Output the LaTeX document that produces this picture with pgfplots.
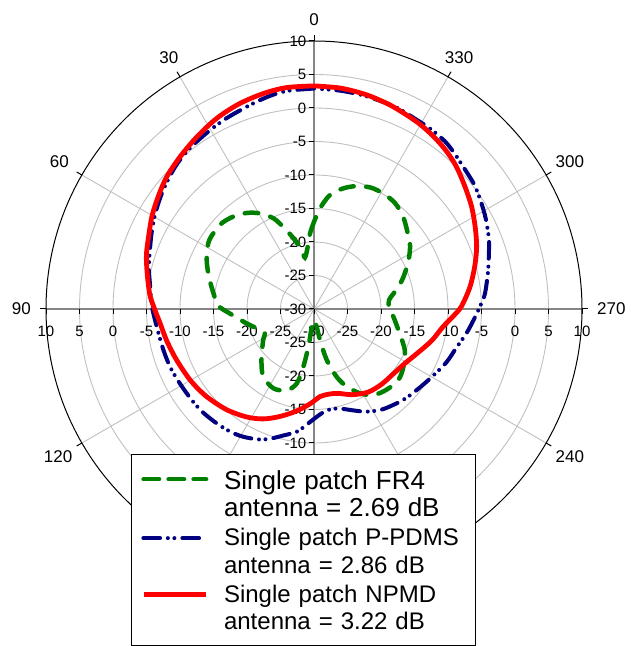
\documentclass[border=0pt]{standalone}
\usepackage{pgfplots}
\pgfplotsset{compat=1.18}
\usepackage{pgfplotstable}
\usepackage{fontspec}
\setmainfont{Liberation Sans}
\definecolor{gridc}{RGB}{192,192,192}
\definecolor{axc}{RGB}{134,134,134}
\definecolor{fgreen}{RGB}{0,128,0}
\definecolor{pnavy}{RGB}{0,0,128}
\definecolor{nred}{RGB}{255,0,0}

\pgfplotsset{
  limgA/.style={legend image code/.code={\path (0pt,0pt) (67pt,0pt);
    \draw[##1, dash pattern=on 15.5pt off 9.5pt] (2.25pt,14.5pt) -- (64.75pt,14.5pt);}},
  limgB/.style={legend image code/.code={\path (0pt,0pt) (67pt,0pt);
    \draw[##1] (2pt,12.8pt) -- (65pt,12.8pt);}},
  limgC/.style={legend image code/.code={\path (0pt,0pt) (67pt,0pt);
    \draw[##1] (2.5pt,12.5pt) -- (64.5pt,12.5pt);}},
}

% angle (deg, 0 = top, counter-clockwise), gain (dB)
\pgfplotstableread{
a v
0 -17.0
3 -18.7
6 -20.8
10 -22.2
12 -21.0
15.5 -19.3
20 -17.2
24 -15.2
29.5 -13.6
35 -12.5
41 -11.7
47 -11.2
53 -11.2
58 -11.4
65.5 -12.4
73 -13.6
81 -14.8
88 -15.7
93 -17.4
102 -19.7
110 -21.2
116.5 -21.8
121.5 -21.1
134 -19.1
143 -17.4
153 -16.7
161.5 -17.2
167 -18.6
169.5 -21.2
171.5 -24.3
173 -27.3
180 -28.3
188.5 -27.3
191 -25.3
194 -22.2
198.5 -19.3
203 -17.4
208.5 -15.7
214.5 -14.4
222 -13.8
230 -13.55
237 -14.1
245.5 -15.1
254 -16.7
264.5 -18.1
270.5 -18.8
277 -18.7
281 -17.9
288 -16.2
296 -14.4
303 -12.9
309 -12.0
316 -10.85
322.5 -10.1
329 -9.9
335 -10.0
341 -10.6
346.5 -11.5
352 -12.8
356.5 -14.9
360 -17.0
}\frfour

\pgfplotstableread{
a v
0 2.9
7 2.8
12 2.45
18 1.85
25 1.3
31 0.8
38 0.3
44 -0.3
50 -1.1
55 -1.8
60 -2.5
65 -3.25
70 -3.95
76 -4.6
82 -5.3
89 -5.8
96 -6.35
105 -6.7
112 -6.85
119 -7.1
127 -7.25
133 -7.35
140 -7.6
146 -7.85
151 -8.2
157 -8.85
161 -9.5
166 -10.5
172 -11.5
176 -12.6
180 -13.6
185 -14.5
190 -14.85
195 -14.6
201 -13.8
207 -12.8
214 -11.9
221 -11.3
227 -10.8
235 -10.2
241 -9.6
248 -8.7
255 -7.95
261 -6.95
267 -5.95
271 -5.2
275 -4.4
282 -3.45
288 -2.55
292 -1.85
298 -1.0
303 -0.35
308 0.3
314 0.8
318 1.3
322 1.75
327 2.0
332 2.15
338 2.5
346 2.7
353 2.82
360 2.9
}\ppdms

\pgfplotstableread{
a v
0 3.3
7 3.3
13 3.05
20 2.6
27 1.95
34 1.1
41 0.3
48 -0.45
54 -1.3
60 -2.1
66 -3.0
72 -3.7
78 -4.55
85 -5.4
90 -6.2
95 -6.9
102 -7.5
110 -8.1
120 -8.7
129 -9.3
139 -10.1
148 -11.0
155 -11.9
162 -13.1
170 -14.5
178 -15.9
184 -16.9
190 -17.1
196 -16.9
204 -16.0
213 -15.2
222 -14.9
231 -14.7
239 -14.2
247 -13.2
255 -11.8
262 -10.6
267 -9.2
271 -8.0
278 -6.5
285 -5.15
291 -4.0
297 -3.0
303 -1.95
309 -1.0
315 0.05
320 0.75
325 1.3
331 1.85
339 2.45
346 2.9
353 3.2
360 3.3
}\npmd

\begin{document}
\begin{tikzpicture}
% ---------- polar grid (centre of the chart) ----------
\begin{scope}[shift={(314pt,337pt)}]
  \foreach \k in {1,...,7}
    \draw[gridc, line width=0.9pt] (0,0) circle[radius=\k*33.5pt];
  \foreach \a in {30,60,120,150,210,240,300,330}
    \draw[gridc, line width=0.9pt] (0,0) -- (\a:268pt);
  \draw[axc, line width=1.5pt] (0,-268pt) -- (0,268pt);
  \draw[axc, line width=1.5pt] (-268pt,0) -- (268pt,0);
  \draw[black, line width=1pt] (0,0) circle[radius=268pt];
  \foreach \a in {0,30,...,330}
    \draw[black, line width=1pt] (\a:268pt) -- (\a:274pt);
  \foreach \k in {-8,...,8}{
    \draw[black, line width=1pt] (-5.5pt,\k*33.5pt) -- (0,\k*33.5pt);
    \draw[black, line width=1pt] (\k*33.5pt,0) -- (\k*33.5pt,-5.5pt);
    \pgfmathtruncatemacro\val{-30+5*abs(\k)}
    \node[anchor=north, inner sep=0pt, font=\fontsize{15}{18}\selectfont]
      at (\k*33.5pt,-17pt) {\val};
  }
  % radial labels on the vertical axis (those behind the legend are not shown)
  \foreach \k in {-4,...,8}{
    \pgfmathtruncatemacro\val{-30+5*abs(\k)}
    \node[anchor=east, inner sep=0pt, font=\fontsize{15}{18}\selectfont]
      at (-7.5pt,\k*33.5pt) {\val};
  }
  % angle labels (150, 180, 210 lie behind the legend)
  \foreach \t in {0,30,60,90,120,240,270,300,330}{
    \pgfmathtruncatemacro\ph{\t+90}
    \pgfmathtruncatemacro\an{mod(\t+270,360)}
    \node[anchor=\an, inner sep=0pt, font=\fontsize{17}{20}\selectfont]
      at (\ph:283pt) {\t};
  }
\end{scope}
% ---------- data ----------
\begin{axis}[
  at={(0pt,0pt)}, anchor=south west,
  scale only axis, width=630pt, height=646pt,
  xmin=-46.8657, xmax=47.1642, ymin=-50.2985, ymax=46.1194,
  hide axis, clip=false, data cs=polar,
  legend cell align=left,
  legend style={at={(0.20794,0.29721)}, anchor=north west,
    draw=black, line width=0.9pt, fill=white,
    inner xsep=7.5pt, inner ysep=14pt, row sep=7.3pt, column sep=11.3pt,
    font=\fontsize{24}{27.5}\selectfont,
    nodes={text width=242pt, align=left, inner sep=2pt, text depth={}, anchor=west}},
]
\addplot[fgreen, line width=4.5pt, line cap=round, dash pattern=on 13.5pt off 12.5pt, smooth, limgA]
  table[x expr=\thisrow{a}+90, y expr=\thisrow{v}+30]{\frfour};
\addlegendentry{\fontsize{26}{30.7}\selectfont Single patch FR4\\antenna = 2.69 dB}
\addplot[pnavy, line width=4pt, line cap=round,
  dash pattern=on 16.7pt off 7.8pt on 0pt off 6.5pt on 0pt off 8pt, smooth, limgB]
  table[x expr=\thisrow{a}+90, y expr=\thisrow{v}+30]{\ppdms};
\addlegendentry{Single patch P-PDMS\\antenna = 2.86 dB}
\addplot[nred, line width=4.8pt, smooth, limgC]
  table[x expr=\thisrow{a}+90, y expr=\thisrow{v}+30]{\npmd};
\addlegendentry{Single patch NPMD\\antenna = 3.22 dB}
\end{axis}
\pgfresetboundingbox
\path[use as bounding box] (0pt,0pt) rectangle (630pt,646pt);
\end{tikzpicture}
\end{document}
